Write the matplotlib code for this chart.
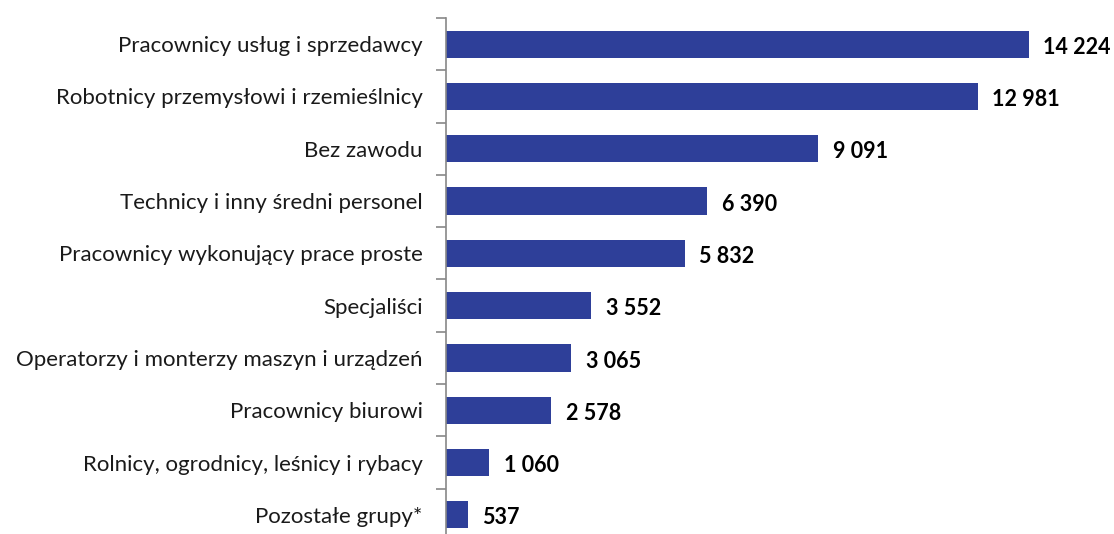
import matplotlib.pyplot as plt

categories = [
    "Pracownicy usług i sprzedawcy",
    "Robotnicy przemysłowi i rzemieślnicy",
    "Bez zawodu",
    "Technicy i inny średni personel",
    "Pracownicy wykonujący prace proste",
    "Specjaliści",
    "Operatorzy i monterzy maszyn i urządzeń",
    "Pracownicy biurowi",
    "Rolnicy, ogrodnicy, leśnicy i rybacy",
    "Pozostałe grupy*",
]
values = [14224, 12981, 9091, 6390, 5832, 3552, 3065, 2578, 1060, 537]
value_labels = ["14 224", "12 981", "9 091", "6 390", "5 832", "3 552", "3 065", "2 578", "1 060", "537"]

W, H = 1114, 534
fig = plt.figure(figsize=(W / 100, H / 100), dpi=100)
left = 445.5 / W
height_px = 52.3 * len(categories)
bottom_px = 18 + height_px
ax = fig.add_axes([left, 1 - bottom_px / H, 656 / W, height_px / H])

n = len(categories)
ypos = list(range(n))
ax.barh(ypos, values, height=0.52, color="#2E3F99", edgecolor="none")
ax.set_ylim(n - 0.5, -0.5)
ax.set_xlim(0, 16000)

font = "Lato"
ax.set_yticks([i - 0.5 for i in range(n + 1)], minor=False)
ax.set_yticklabels([])
ax.set_yticks(ypos, minor=True)
ax.set_yticklabels(categories, minor=True, fontsize=16, family=font, color="#1a1a1a")
ax.tick_params(axis="y", which="major", length=7, width=1.2, color="#888888", direction="out")
ax.tick_params(axis="y", which="minor", length=0, pad=16.5)
ax.set_xticks([])

for s in ["top", "right", "bottom"]:
    ax.spines[s].set_visible(False)
ax.spines["left"].set_color("#888888")
ax.spines["left"].set_linewidth(1.2)

for i, (v, lab) in enumerate(zip(values, value_labels)):
    ax.text(v + 360, i + 0.06, lab, va="center", ha="left", fontsize=15.5,
            fontweight="bold", family=font, color="black")

fig.savefig("out.png", dpi=100)
